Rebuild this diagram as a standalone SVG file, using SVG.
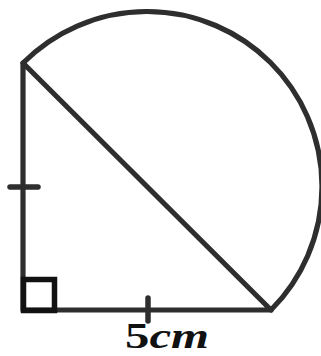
<svg xmlns="http://www.w3.org/2000/svg" width="321" height="356" viewBox="0 0 321 356">
<style>
.ln{fill:none;stroke:#2e2e2e;stroke-width:5.2;stroke-linecap:round;stroke-linejoin:round}
.tk{fill:none;stroke:#2e2e2e;stroke-width:5.5;stroke-linecap:round}
.sq{fill:none;stroke:#111;stroke-width:5.5}
.lbl{font-family:"Liberation Serif","DejaVu Serif",serif;font-size:35px;font-weight:bold;fill:#111}
</style>
<rect width="321" height="356" fill="#fff"/>
<g id="connectors">
<path class="ln" d="M23,63 L23,310 L271,310 Z"/>
<path class="ln" d="M23,63 A174,174 0 0 1 271,310"/>
</g>
<g id="right-angle"><rect class="sq" x="23.5" y="279.5" width="31" height="31"/></g>
<g id="tick-left"><line class="tk" x1="10" y1="187" x2="38" y2="187"/></g>
<g id="tick-bottom"><line class="tk" x1="148" y1="298" x2="148" y2="321"/></g>
<g id="label"><text class="lbl" x="125" y="348" textLength="84" lengthAdjust="spacingAndGlyphs">5<tspan font-style="italic">cm</tspan></text></g>
</svg>
